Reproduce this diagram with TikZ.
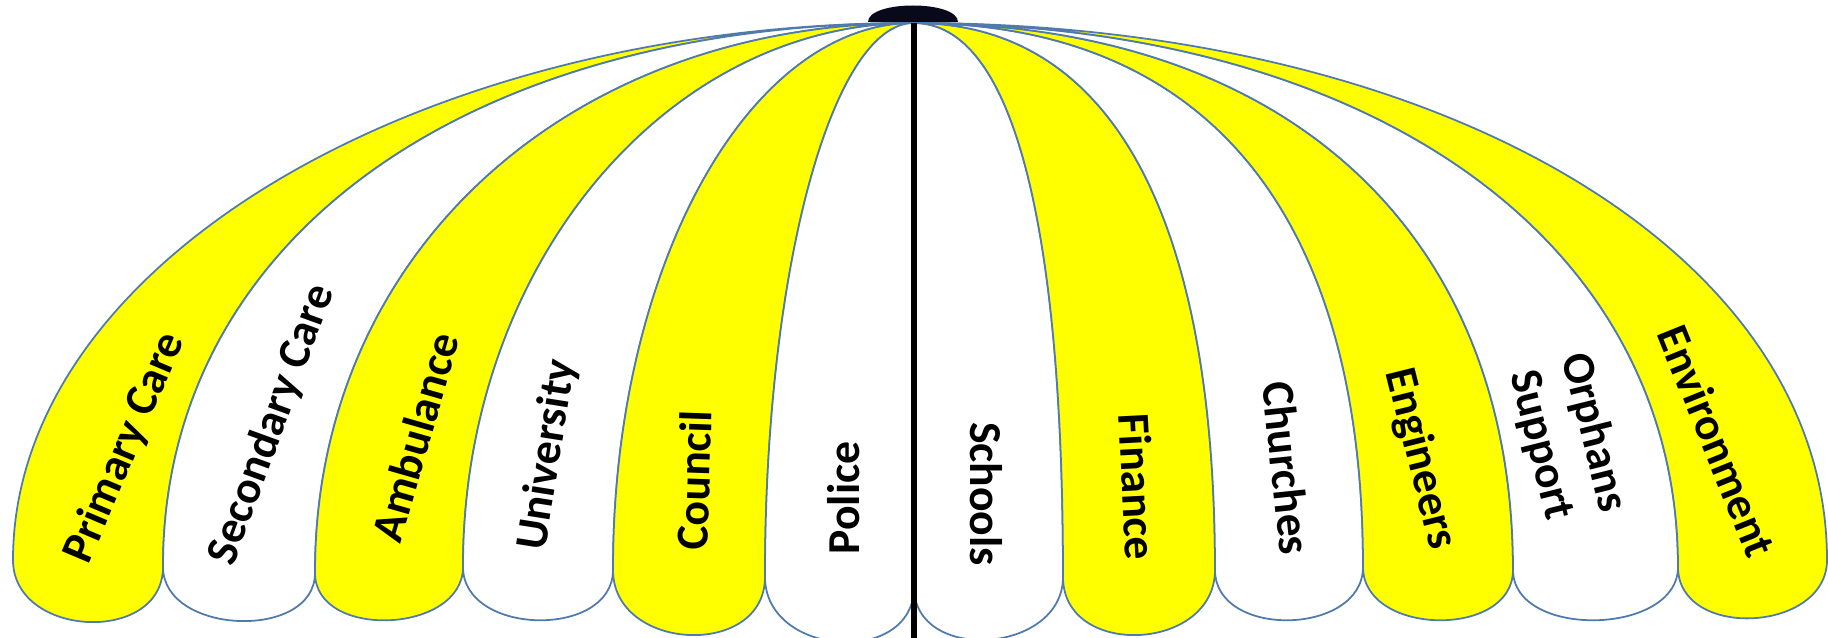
\documentclass[tikz,border=0pt]{standalone}
\usepackage{fontspec}
\setmainfont{Carlito}
\usepackage{tikz}
\usetikzlibrary{positioning}

\definecolor{rib}{RGB}{80,122,172}
\definecolor{canopy}{RGB}{255,255,0}
\definecolor{capcol}{RGB}{8,10,28}

\begin{document}
\begin{tikzpicture}[
    x=0.1mm, y=-0.1mm,
    yellowpanel/.style={draw=rib, fill=canopy, line width=0.5pt, line join=round},
    whitepanel/.style={draw=rib, fill=white, line width=0.5pt, line join=round},
    agency/.style={font=\fontsize{13}{15.5}\selectfont\bfseries, align=center, inner sep=0pt},
    pole/.style={line width=0.6mm, black}
]
\useasboundingbox (0,0) rectangle (1828,637);

\coordinate (top) at (914,23);
\coordinate (foot) at (914,645);
\coordinate (b0) at (13,560);
\coordinate (b1) at (163,567);
\coordinate (b2) at (315,573);
\coordinate (b3) at (463,567);
\coordinate (b4) at (613,570);
\coordinate (b5) at (765,577);
\coordinate (b6) at (914,587);
\coordinate (b7) at (1063,577);
\coordinate (b8) at (1215,570);
\coordinate (b9) at (1363,567);
\coordinate (b10) at (1513,570);
\coordinate (b11) at (1678,567);
\coordinate (b12) at (1827,560);

\filldraw[yellowpanel] (top) .. controls (417,23) and (13,264) .. (b0)
    .. controls (13,638) and (163,645) .. (b1)
    .. controls (163,241) and (463,23) .. (top) -- cycle;
\filldraw[whitepanel] (top) .. controls (463,23) and (163,241) .. (b1)
    .. controls (163,635) and (315,641) .. (b2)
    .. controls (315,254) and (567,23) .. (top) -- cycle;
\filldraw[yellowpanel] (top) .. controls (567,23) and (315,254) .. (b2)
    .. controls (315,640) and (463,634) .. (b3)
    .. controls (463,267) and (665,23) .. (top) -- cycle;
\filldraw[whitepanel] (top) .. controls (665,23) and (463,267) .. (b3)
    .. controls (463,636) and (613,639) .. (b4)
    .. controls (613,268) and (748,23) .. (top) -- cycle;
\filldraw[yellowpanel] (top) .. controls (748,23) and (613,268) .. (b4)
    .. controls (613,652) and (765,659) .. (b5)
    .. controls (765,271) and (832,23) .. (top) -- cycle;
\filldraw[whitepanel] (top) .. controls (832,23) and (765,271) .. (b5)
    .. controls (765,657) and (914,667) .. (b6) -- (top) -- cycle;

% right half of the canopy
\filldraw[whitepanel] (top) -- (b6)
    .. controls (914,664) and (1063,654) .. (b7)
    .. controls (1063,217) and (1011,23) .. (top) -- cycle;
\filldraw[yellowpanel] (top) .. controls (1011,23) and (1063,217) .. (b7)
    .. controls (1063,659) and (1215,652) .. (b8)
    .. controls (1215,214) and (1110,23) .. (top) -- cycle;
\filldraw[whitepanel] (top) .. controls (1110,23) and (1215,214) .. (b8)
    .. controls (1215,639) and (1363,636) .. (b9)
    .. controls (1363,213) and (1206,23) .. (top) -- cycle;
\filldraw[yellowpanel] (top) .. controls (1206,23) and (1363,213) .. (b9)
    .. controls (1363,636) and (1513,639) .. (b10)
    .. controls (1513,231) and (1285,23) .. (top) -- cycle;
\filldraw[whitepanel] (top) .. controls (1285,23) and (1513,231) .. (b10)
    .. controls (1513,639) and (1678,636) .. (b11)
    .. controls (1678,241) and (1372,23) .. (top) -- cycle;
\filldraw[yellowpanel] (top) .. controls (1372,23) and (1678,241) .. (b11)
    .. controls (1678,640) and (1827,633) .. (b12)
    .. controls (1827,251) and (1439,23) .. (top) -- cycle;

\draw[pole] (top) -- (foot);
\fill[capcol] (868,22) .. controls (868,0) and (958,0) .. (958,22) -- cycle;

\node[agency, rotate=67] (primary) at (125,448) {Primary Care};
\node[agency, rotate=70] (secondary) at (272,425) {Secondary Care};
\node[agency, rotate=74] (ambulance) at (415,437) {Ambulance};
\node[agency, rotate=81] (university) at (548,455) {University};
\node[agency, rotate=88] (council) at (694,480) {Council};
\node[agency, rotate=90] (police) at (844,498) {Police};
\node[agency, rotate=-90] (schools) at (986,494) {Schools};
\node[agency, rotate=-87] (finance) at (1138,487) {Finance};
\node[agency, rotate=-84] (churches) at (1287,468) {Churches};
\node[agency, rotate=-76] (engineers) at (1420,459) {Engineers};
\node[agency, rotate=-76] (orphans) at (1567,439) {Orphans\\Support};
\node[agency, rotate=-68] (environment) at (1717,441) {Environment};
\end{tikzpicture}
\end{document}
